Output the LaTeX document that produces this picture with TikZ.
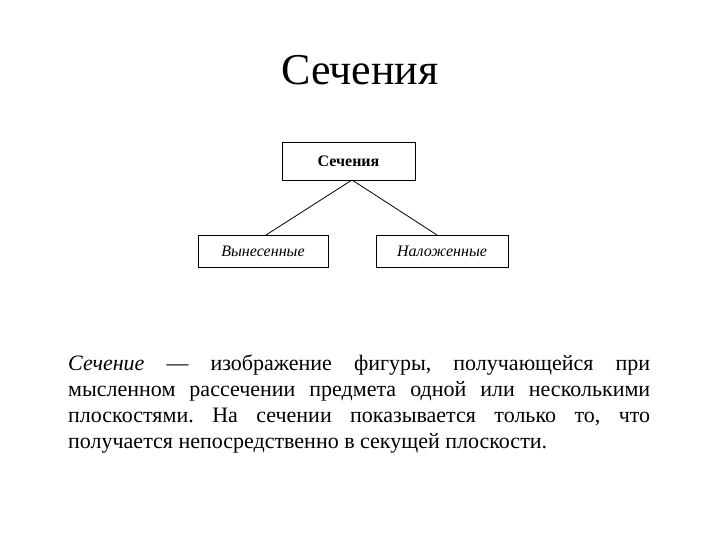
\documentclass[tikz,border=0pt]{standalone}
\usepackage{fontspec}
\setmainfont{Liberation Serif}
\begin{document}
\begin{tikzpicture}[x=1pt,y=-1pt,
  bx/.style={draw,line width=0.8pt,inner sep=0pt,font=\fontsize{16}{18}\selectfont},
  ln/.style={line width=0.8pt}]
\useasboundingbox (0,0) rectangle (720,540);
\node (title) at (360,70) {\fontsize{44}{50}\selectfont Сечения};
\node[bx,minimum width=133pt,minimum height=38pt] (top) at (348.5,161) {\bfseries Сечения};
\node[bx,minimum width=130pt,minimum height=32pt] (l) at (263,251) {\itshape Вынесенные};
\node[bx,minimum width=132pt,minimum height=32pt] (r) at (442,251) {\itshape Наложенные};
\coordinate (s) at (352,180);
\draw[ln] (s) -- (266,235);
\draw[ln] (s) -- (437,235);
\node[anchor=north west,text width=582pt,align=justify,inner sep=0pt,
  font=\fontsize{22}{26}\selectfont] (txt) at (68,355)
  {\frenchspacing\textit{Сечение} — изображение фигуры, получающейся при\linebreak мысленном рассечении предмета одной или несколькими\linebreak плоскостями. На сечении показывается только то, что\linebreak получается непосредственно в секущей плоскости.};
\end{tikzpicture}
\end{document}
